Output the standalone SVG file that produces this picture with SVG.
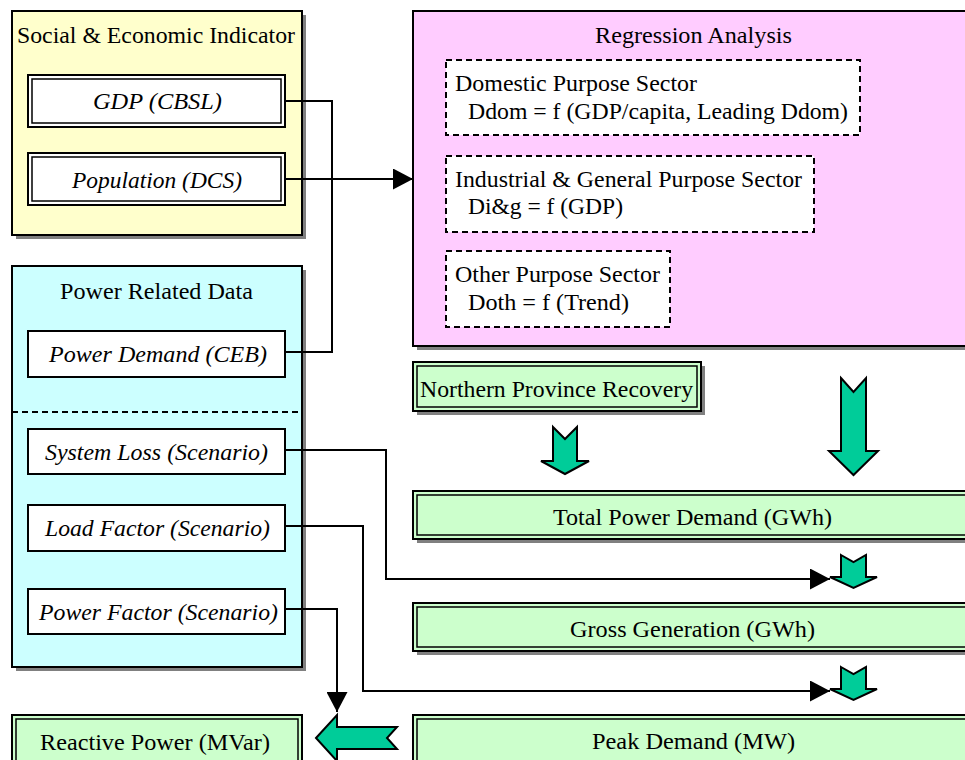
<svg xmlns="http://www.w3.org/2000/svg" width="965" height="760" viewBox="0 0 965 760">
<style>
.t{font-family:"Liberation Serif","Times New Roman",serif;font-size:24px;fill:#000}
.i{font-style:italic}
.sh{fill:#808080}
.box{stroke:#000;stroke-width:2}
.w{fill:#fff;stroke:#000}
.dash{fill:#fff;stroke:#000;stroke-width:2;stroke-dasharray:6 4}
.g{fill:#ccffcc;stroke:#000}
.ga{fill:#00cc99;stroke:#000;stroke-width:2;stroke-linejoin:miter}
.c{fill:none;stroke:#000;stroke-width:2}
</style>
<defs>
<marker id="ah" markerUnits="userSpaceOnUse" markerWidth="21" markerHeight="21" refX="20" refY="10.5" orient="auto">
<path d="M0,0 L20,10.5 L0,21 Z" fill="#000"/>
</marker>
</defs>
<rect width="965" height="760" fill="#fff"/>

<g id="social">
<rect class="sh" x="16" y="15" width="290" height="224"/>
<rect class="box" x="12" y="11" width="290" height="224" fill="#ffffcc"/>
<text class="t" x="17" y="43" textLength="278" lengthAdjust="spacingAndGlyphs">Social &amp; Economic Indicator</text>
</g>
<g id="gdp">
<rect class="w" x="28" y="75" width="257" height="52" stroke-width="2"/>
<rect class="w" x="32" y="79" width="249" height="44" stroke-width="1.5"/>
<text class="t i" x="93" y="109" textLength="129" lengthAdjust="spacingAndGlyphs">GDP (CBSL)</text>
</g>
<g id="population">
<rect class="w" x="28" y="153" width="257" height="52" stroke-width="2"/>
<rect class="w" x="32" y="157" width="249" height="44" stroke-width="1.5"/>
<text class="t i" x="72" y="188" textLength="170" lengthAdjust="spacingAndGlyphs">Population (DCS)</text>
</g>

<g id="power-data">
<rect class="sh" x="16" y="270" width="290" height="401"/>
<rect class="box" x="12" y="266" width="290" height="401" fill="#ccffff"/>
<text class="t" x="60" y="299" textLength="193" lengthAdjust="spacingAndGlyphs">Power Related Data</text>
<line x1="12" y1="412" x2="302" y2="412" stroke="#000" stroke-width="2" stroke-dasharray="6 4"/>
</g>
<g id="power-demand">
<rect class="w" x="28" y="331" width="257" height="46" stroke-width="2"/>
<text class="t i" x="49" y="362" textLength="218" lengthAdjust="spacingAndGlyphs">Power Demand (CEB)</text>
</g>
<g id="system-loss">
<rect class="w" x="28" y="429" width="257" height="45" stroke-width="2"/>
<text class="t i" x="45" y="460" textLength="223" lengthAdjust="spacingAndGlyphs">System Loss (Scenario)</text>
</g>
<g id="load-factor">
<rect class="w" x="28" y="505" width="257" height="46" stroke-width="2"/>
<text class="t i" x="45" y="536" textLength="225" lengthAdjust="spacingAndGlyphs">Load Factor (Scenario)</text>
</g>
<g id="power-factor">
<rect class="w" x="28" y="589" width="257" height="45" stroke-width="2"/>
<text class="t i" x="39" y="620" textLength="239" lengthAdjust="spacingAndGlyphs">Power Factor (Scenario)</text>
</g>

<g id="regression">
<rect class="sh" x="417" y="15" width="560" height="335"/>
<rect class="box" x="413" y="11" width="560" height="335" fill="#ffccff"/>
<text class="t" x="595" y="43" textLength="197" lengthAdjust="spacingAndGlyphs">Regression Analysis</text>
</g>
<g id="domestic">
<rect class="dash" x="446" y="60" width="414" height="75"/>
<text class="t" x="455" y="91" textLength="242" lengthAdjust="spacingAndGlyphs">Domestic Purpose Sector</text>
<text class="t" x="468" y="119" textLength="380" lengthAdjust="spacingAndGlyphs">Ddom = f (GDP/capita, Leading Ddom)</text>
</g>
<g id="industrial">
<rect class="dash" x="446" y="156" width="368" height="76"/>
<text class="t" x="455" y="187" textLength="347" lengthAdjust="spacingAndGlyphs">Industrial &amp; General Purpose Sector</text>
<text class="t" x="468" y="214" textLength="155" lengthAdjust="spacingAndGlyphs">Di&amp;g = f (GDP)</text>
</g>
<g id="other">
<rect class="dash" x="446" y="251" width="224" height="76"/>
<text class="t" x="455" y="282" textLength="205" lengthAdjust="spacingAndGlyphs">Other Purpose Sector</text>
<text class="t" x="468" y="310" textLength="161" lengthAdjust="spacingAndGlyphs">Doth = f (Trend)</text>
</g>

<g id="northern">
<rect class="sh" x="417" y="366" width="288" height="49"/>
<rect class="g" x="413" y="362" width="288" height="49" stroke-width="2"/>
<rect class="g" x="417" y="366" width="280" height="41" stroke-width="1.5"/>
<text class="t" x="420" y="397" textLength="273" lengthAdjust="spacingAndGlyphs">Northern Province Recovery</text>
</g>
<g id="total">
<rect class="sh" x="417" y="495" width="560" height="48"/>
<rect class="g" x="413" y="491" width="560" height="48" stroke-width="2"/>
<rect class="g" x="417" y="495" width="552" height="40" stroke-width="1.5"/>
<text class="t" x="553" y="525" textLength="279" lengthAdjust="spacingAndGlyphs">Total Power Demand (GWh)</text>
</g>
<g id="gross">
<rect class="sh" x="417" y="607" width="560" height="48"/>
<rect class="g" x="413" y="603" width="560" height="48" stroke-width="2"/>
<rect class="g" x="417" y="607" width="552" height="40" stroke-width="1.5"/>
<text class="t" x="570" y="637" textLength="245" lengthAdjust="spacingAndGlyphs">Gross Generation (GWh)</text>
</g>
<g id="peak">
<rect class="g" x="413" y="715" width="560" height="50" stroke-width="2"/>
<rect class="g" x="417" y="719" width="552" height="42" stroke-width="1.5"/>
<text class="t" x="592" y="749" textLength="203" lengthAdjust="spacingAndGlyphs">Peak Demand (MW)</text>
</g>
<g id="reactive">
<rect class="g" x="12" y="715" width="290" height="50" stroke-width="2"/>
<rect class="g" x="16" y="719" width="282" height="42" stroke-width="1.5"/>
<text class="t" x="40" y="750" textLength="230" lengthAdjust="spacingAndGlyphs">Reactive Power (MVar)</text>
</g>

<g id="flow-arrows">
<polygon class="ga" points="553,427 565,439 577,427 577,461 589,461 565,474 541,461 553,461"/>
<polygon class="ga" points="841,378 853.5,392 866,378 866,451 878,451 853.5,475 829,451 841,451"/>
<polygon class="ga" points="841,555 853.5,562 866,555 866,577 877,577 853.5,588 830,577 841,577"/>
<polygon class="ga" points="841,667 853.5,674 866,667 866,689 877,689 853.5,700 830,689 841,689"/>
<polygon class="ga" points="316,738 337,715 337,727 397,727 387,738 397,749 337,749 337,761"/>
</g>

<g id="connectors">
<path class="c" d="M285,101 H332 V352 H285"/>
<path class="c" d="M285,179 H413" marker-end="url(#ah)"/>
<path class="c" d="M285,450 H386 V579 H830" marker-end="url(#ah)"/>
<path class="c" d="M285,526 H363 V691 H830" marker-end="url(#ah)"/>
<path class="c" d="M285,609 H337 V712" marker-end="url(#ah)"/>
</g>
</svg>
